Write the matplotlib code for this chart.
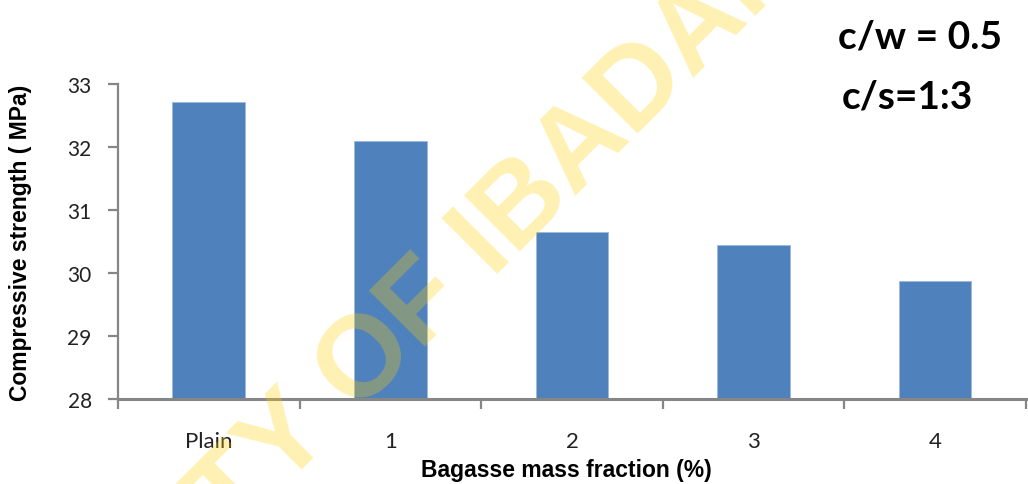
import matplotlib.pyplot as plt
from matplotlib.ticker import FixedLocator

categories = ['Plain', '1', '2', '3', '4']
strength = [32.72, 32.10, 30.65, 30.45, 29.88]
y_ticks = [28, 29, 30, 31, 32, 33]

BAR_COLOR = '#4F81BD'
AXIS_COLOR = '#868686'


def plot():
    fig = plt.figure(figsize=(10.28, 4.85), dpi=100)
    ax = fig.add_axes([0.1148, 0.1753, 0.8832, 0.6494])

    x = list(range(len(categories)))
    ax.bar(x, strength, width=0.4, color=BAR_COLOR, edgecolor='#9DB8DC',
           linewidth=0.6, zorder=2)

    ax.set_xlim(-0.5, len(categories) - 0.5)
    ax.set_ylim(y_ticks[0], y_ticks[-1])
    ax.set_yticks(y_ticks)
    ax.set_xticks(x)
    ax.set_xticklabels(categories)
    ax.xaxis.set_minor_locator(FixedLocator([i - 0.5 for i in range(len(categories) + 1)]))

    for side in ['top', 'right']:
        ax.spines[side].set_visible(False)
    ax.spines['left'].set_color(AXIS_COLOR)
    ax.spines['left'].set_linewidth(1.6)
    ax.spines['bottom'].set_color(AXIS_COLOR)
    ax.spines['bottom'].set_linewidth(2.2)

    ax.tick_params(axis='y', length=7, width=1.6, color=AXIS_COLOR, pad=12,
                   labelsize=15, labelcolor='#222222')
    ax.tick_params(axis='x', which='major', length=0, pad=23,
                   labelsize=16, labelcolor='#222222')
    ax.tick_params(axis='x', which='minor', length=7, width=1.6, color=AXIS_COLOR)
    for lab in ax.get_xticklabels() + ax.get_yticklabels():
        lab.set_fontfamily('Lato')

    ax.set_ylabel('Compressive strength ( MPa)', fontsize=16.5, fontweight='bold',
                  fontfamily='Liberation Sans')
    ax.yaxis.set_label_coords(-0.095, 0.5)
    fig.text(0.551, 1 - 471 / 485, 'Bagasse mass fraction (%)', fontsize=16.5,
             fontweight='bold', fontfamily='Liberation Sans', ha='center', va='center')

    fig.text(838 / 1028, 1 - 37 / 485, 'c/w = 0.5', fontsize=28, fontweight='bold',
             fontfamily='Lato', ha='left', va='center')
    fig.text(842 / 1028, 1 - 97 / 485, 'c/s=1:3', fontsize=28, fontweight='bold',
             fontfamily='Lato', ha='left', va='center')

    # watermark
    fig.text(0.298, 0.128, 'UNIVERSITY OF IBADAN', fontsize=83, fontweight='bold',
             fontfamily=['Liberation Sans Narrow', 'Liberation Sans'],
             color=(1.0, 0.82, 0.0), alpha=0.3, rotation=45,
             rotation_mode='anchor', ha='center', va='center', zorder=10)

    fig.savefig('out.png', dpi=100)


def main():
    plot()


main()
